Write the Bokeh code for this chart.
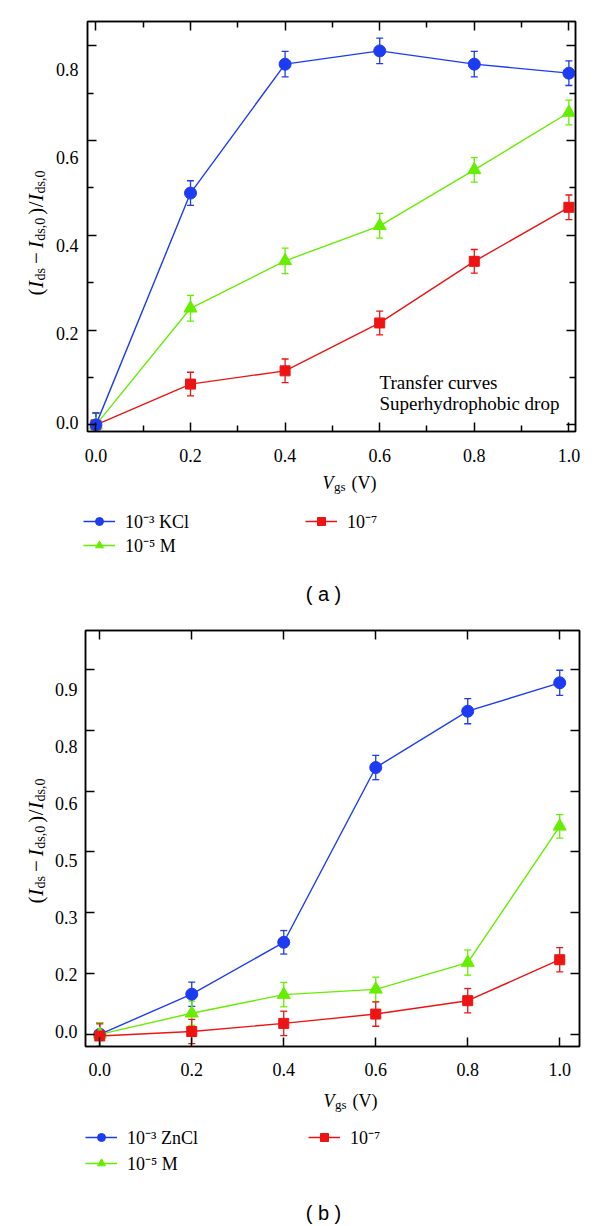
import math
import numpy as np
from bokeh.plotting import figure
from bokeh.models import (ColumnDataSource, Whisker, TeeHead, FixedTicker, LinearAxis,
                          Range1d, Label, Legend, LegendItem)
from bokeh.core.properties import value
from bokeh.layouts import column, row
from bokeh.embed import file_html
from bokeh.resources import INLINE

# ---------------- data ----------------
vgs = [0.0, 0.2, 0.4, 0.6, 0.8, 1.0]

# (a) KCl, superhydrophobic drop
a_1e3 = [0.0, 0.489, 0.761, 0.789, 0.761, 0.742]
a_1e3_err = [0.025, 0.026, 0.027, 0.027, 0.027, 0.026]
a_1e5 = [0.0, 0.246, 0.346, 0.420, 0.538, 0.659]
a_1e5_err = [0.025, 0.027, 0.027, 0.026, 0.026, 0.026]
a_1e7 = [0.0, 0.086, 0.114, 0.215, 0.345, 0.459]
a_1e7_err = [0.025, 0.025, 0.025, 0.025, 0.025, 0.026]

# (b) ZnCl
b_1e3 = [0.0, 0.099, 0.227, 0.658, 0.797, 0.867]
b_1e3_err = [0.029, 0.030, 0.029, 0.030, 0.031, 0.031]
b_1e5 = [0.0, 0.052, 0.098, 0.111, 0.177, 0.513]
b_1e5_err = [0.029, 0.030, 0.030, 0.030, 0.031, 0.029]
b_1e7 = [-0.004, 0.007, 0.027, 0.050, 0.083, 0.184]
b_1e7_err = [0.030, 0.030, 0.030, 0.030, 0.030, 0.030]

labels_a = ["10⁻³ KCl", "10⁻⁵ M", "10⁻⁷"]
labels_b = ["10⁻³ ZnCl", "10⁻⁵ M", "10⁻⁷"]

x_ticks = [0.0, 0.2, 0.4, 0.6, 0.8, 1.0]
x_tick_labels = ["0.0", "0.2", "0.4", "0.6", "0.8", "1.0"]
a_x_minor = [0.1, 0.3, 0.5, 0.7, 0.9]
a_y_ticks = [0.0, 0.2, 0.4, 0.6, 0.8]
a_y_tick_labels = ["0.0", "0.2", "0.4", "0.6", "0.8"]
a_y_minor = [0.1, 0.3, 0.5, 0.7]
b_y_ticks = [0.0, 0.15, 0.30, 0.45, 0.60, 0.75, 0.90]
b_y_tick_labels = ["0.0", "0.2", "0.3", "0.5", "0.6", "0.8", "0.9"]

# ---------------- style ----------------
SERIF = "Liberation Serif"
SANS = "Liberation Sans"
BLUE = "#1d3cf2"
GREEN = "#66ee00"
RED = "#ee1414"
TICK_SIZE = 18

ADV = {'(': 333, ')': 333, '/': 278, 'I': 333, 'V': 722, 'd': 500, 's': 389, 'g': 500,
       ',': 250, '.': 250, '0': 500, ' ': 250, '−': 564}
ADV_IT = {'I': 333, 'V': 611}


def text_w(s, size, style="normal"):
    tot = 0
    for c in s:
        if style == "italic" and c in ADV_IT:
            tot += ADV_IT[c]
        else:
            tot += ADV.get(c, 500)
    return tot * size / 1000.0


def serif_label(x, y, text, size, style="normal", dx=0.0, dy=0.0, angle=0.0):
    return Label(x=x, y=y, x_offset=dx, y_offset=dy, text=text, angle=angle,
                 text_font=SERIF, text_font_size=f"{size}px", text_font_style=style,
                 text_color="black", text_baseline="alphabetic", text_align="left")


def rich(fig, pieces, x, y, dx, dy, vertical):
    pos = 0.0
    for t, size, style, shift, gap in pieces:
        if vertical:
            lab = serif_label(x, y, t, size, style, dx + shift, dy + pos, math.pi / 2)
        else:
            lab = serif_label(x, y, t, size, style, dx + pos, dy - shift)
        fig.add_layout(lab)
        pos += text_w(t, size, style) + gap


def ylabel_pieces():
    M, S, sh = 21, 14, 4.5
    return [("(", M, "normal", 0, 0.5), ("I", M, "italic", 0, 0.5), ("ds", S, "normal", sh, 4),
            ("−", M, "normal", 0, 4), ("I", M, "italic", 0, 0.5), ("ds,0", S, "normal", sh, 3),
            (")", M, "normal", 0, 0.5), ("/", M, "normal", 0, 0.5), ("I", M, "italic", 0, 0.5),
            ("ds,0", S, "normal", sh, 0)]


def xlabel_pieces():
    M, S, sh = 18, 13, 4
    return [("V", M, "italic", 0, 0.5), ("gs", S, "normal", sh, 6), ("(V)", M, "normal", 0, 0)]


def style_axis(ax, ticks, minor):
    ax.ticker = FixedTicker(ticks=ticks, minor_ticks=minor)
    ax.axis_line_color = "black"
    ax.axis_line_width = 1.5
    ax.major_tick_line_color = "black"
    ax.major_tick_line_width = 1.5
    ax.minor_tick_line_color = "black"
    ax.minor_tick_line_width = 1.5
    ax.major_tick_in = 9
    ax.major_tick_out = 0
    ax.minor_tick_in = 6
    ax.minor_tick_out = 0
    ax.major_label_text_color = None
    ax.major_label_text_font_size = "1px"
    ax.major_label_standoff = 0


def make_fig(width, height, xr, yr, borders, y_ticks, y_minor, x_minor):
    left, right, top, bottom = borders
    p = figure(width=width, height=height, output_backend="svg", toolbar_location=None,
               x_range=Range1d(*xr), y_range=Range1d(*yr),
               min_border_left=left, min_border_right=right,
               min_border_top=top, min_border_bottom=bottom)
    p.xgrid.visible = False
    p.ygrid.visible = False
    p.outline_line_color = "black"
    p.outline_line_width = 1.5
    p.background_fill_color = "white"
    p.border_fill_color = "white"
    style_axis(p.xaxis[0], x_ticks, x_minor)
    style_axis(p.yaxis[0], y_ticks, y_minor)
    top_ax = LinearAxis()
    style_axis(top_ax, x_ticks, x_minor)
    right_ax = LinearAxis()
    style_axis(right_ax, y_ticks, y_minor)
    p.add_layout(top_ax, "above")
    p.add_layout(right_ax, "right")
    return p


def text_fig(w, h, xr, yr):
    f = figure(width=w, height=h, output_backend="svg", toolbar_location=None,
               x_range=Range1d(*xr), y_range=Range1d(*yr),
               x_axis_location=None, y_axis_location=None, min_border=0)
    f.grid.visible = False
    f.outline_line_color = None
    f.background_fill_color = "white"
    f.border_fill_color = "white"
    return f


def series(p, ys, errs, color, marker, size):
    src = ColumnDataSource(dict(x=vgs, y=ys,
                                lo=[v - e for v, e in zip(ys, errs)],
                                hi=[v + e for v, e in zip(ys, errs)]))
    w = Whisker(base="x", upper="hi", lower="lo", source=src, dimension="height",
                line_color=color, line_width=1.3,
                upper_head=TeeHead(size=7, line_color=color, line_width=1.3),
                lower_head=TeeHead(size=7, line_color=color, line_width=1.3))
    p.add_layout(w)
    p.line("x", "y", source=src, line_color=color, line_width=1.4)
    p.scatter("x", "y", source=src, marker=marker, size=size,
              fill_color=color, line_color=color)


def legend_item(f, label, color, marker, size):
    nan = np.array([np.nan])
    ln = f.line(x=nan, y=nan, line_color=color, line_width=1.4)
    sc = f.scatter(x=nan, y=nan, marker=marker, size=size, fill_color=color, line_color=color)
    return LegendItem(label=value(label), renderers=[ln, sc])


def add_legends(f, labels, loc1, loc2, spacing):
    common = dict(border_line_color=None, background_fill_alpha=0, padding=0, margin=0,
                  glyph_width=32, glyph_height=20, label_standoff=10, spacing=spacing,
                  label_text_font=SERIF, label_text_font_size="18px",
                  label_text_color="black", label_height=20)
    i1 = legend_item(f, labels[0], BLUE, "circle", 12)
    i2 = legend_item(f, labels[1], GREEN, "triangle", 13)
    i3 = legend_item(f, labels[2], RED, "square", 10)
    f.add_layout(Legend(items=[i1, i2], location=loc1, **common))
    f.add_layout(Legend(items=[i3], location=loc2, **common))


def panel(sec_top, sec_bot, fl, fr, ft, fb, xr, yr, y_ticks, y_tick_labels, y_minor, x_minor,
          left_w, ylab_x, ylab_start, tick_right, xtick_base, xlab_x, xlab_base,
          legend_locs, legend_spacing, labels, caption, cap_y, draw_series):
    W = 600
    bb = 10                              # bottom border under the frame
    main_h = fb + bb - sec_top
    # main chart
    p = make_fig(W - left_w, main_h, xr, yr, (fl - left_w, W - fr, ft - sec_top, bb),
                 y_ticks, y_minor, x_minor)
    draw_series(p)
    # y-axis side: tick labels and axis title, on the same y scale as the chart
    ky = (fb - ft) / (yr[1] - yr[0])
    yl = text_fig(left_w, main_h, (0, left_w), (yr[0] - bb / ky, yr[1] + (ft - sec_top) / ky))
    mid = 0.338 * TICK_SIZE
    for t, s in zip(y_ticks, y_tick_labels):
        yl.add_layout(serif_label(tick_right - text_w(s, TICK_SIZE), t, s, TICK_SIZE,
                                  dy=-mid))
    rich(yl, ylabel_pieces(), ylab_x, yl.y_range.start, 0, (fb + bb) - ylab_start, True)
    # x-axis side: tick labels, axis title, legend, caption, on the same x scale
    kx = (fr - fl) / (xr[1] - xr[0])
    th = sec_bot - (fb + bb)
    xs = xr[0] - fl / kx
    tx = text_fig(W, th, (xs, xr[1] + (W - fr) / kx), (0, th))
    for t, s in zip(x_ticks, x_tick_labels):
        tx.add_layout(serif_label(t, sec_bot - xtick_base, s, TICK_SIZE,
                                  dx=-text_w(s, TICK_SIZE) / 2))
    rich(tx, xlabel_pieces(), xs, sec_bot - xlab_base, xlab_x, 0, False)
    add_legends(tx, labels, legend_locs[0], legend_locs[1], legend_spacing)
    tx.add_layout(Label(x=xs, y=sec_bot - cap_y, x_offset=323, text=caption, text_font=SANS,
                        text_font_size="20px", text_color="black", text_align="center",
                        text_baseline="middle"))
    return p, column(row(yl, p), tx)


def draw_a(p):
    series(p, a_1e7, a_1e7_err, RED, "square", 10)
    series(p, a_1e5, a_1e5_err, GREEN, "triangle", 13)
    series(p, a_1e3, a_1e3_err, BLUE, "circle", 12)
    for txt, off in (("Transfer curves", 49), ("Superhydrophobic drop", 28)):
        p.add_layout(serif_label(p.x_range.start, p.y_range.start, txt, 19, dx=292, dy=off))


def draw_b(p):
    series(p, b_1e3, b_1e3_err, BLUE, "circle", 12)
    series(p, b_1e5, b_1e5_err, GREEN, "triangle", 13)
    series(p, b_1e7, b_1e7_err, RED, "square", 10)


pa, sec_a = panel(0, 613, 87, 575, 21, 431, (-0.0178, 1.014), (-0.014, 0.851),
                  a_y_ticks, a_y_tick_labels, a_y_minor, a_x_minor,
                  85, 35, 305, 78, 455, 322, 482,
                  ((83, 56), (305, 80)), 0, labels_a, "( a )", 593, draw_a)

pb, sec_b = panel(613, 1226, 85, 579, 630, 1046, (-0.031, 1.043), (-0.030, 0.996),
                  b_y_ticks, b_y_tick_labels, [], [],
                  83, 35, 913, 77, 1069, 323, 1100,
                  ((85, 51), (308, 77)), 2, labels_b, "( b )", 1212, draw_b)

layout = column(sec_a, sec_b)
open("out.html", "w").write(file_html(layout, INLINE))
